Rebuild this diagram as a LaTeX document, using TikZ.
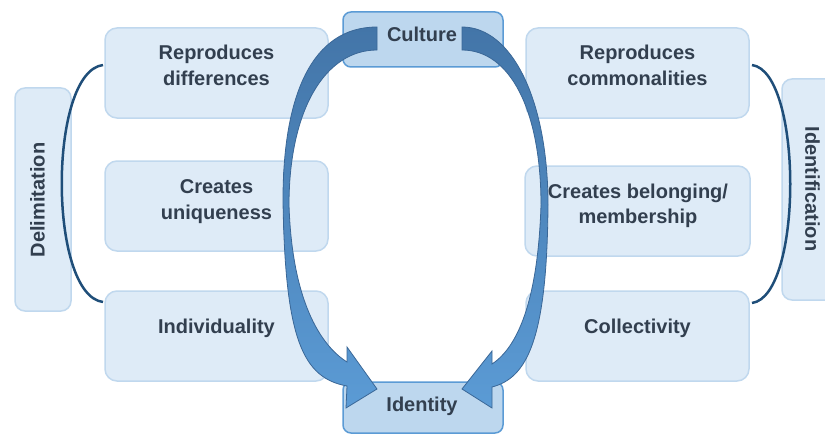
\documentclass[tikz,border=0pt]{standalone}
\usepackage{fontspec}
\setmainfont{Liberation Sans}
\definecolor{boxfill}{HTML}{DEEBF7}
\definecolor{boxline}{HTML}{C0D8EE}
\definecolor{keyfill}{HTML}{BDD7EE}
\definecolor{keyline}{HTML}{5B9BD5}
\definecolor{ink}{HTML}{323F4F}
\definecolor{bracecol}{HTML}{1F4E79}
\definecolor{arrowtop}{HTML}{4375A8}
\definecolor{arrowbot}{HTML}{5B9BD5}
\definecolor{arrowline}{HTML}{3A6797}
\tikzset{
  panel/.style={draw=boxline, fill=boxfill, line width=1.5pt, rounded corners=12pt,
    minimum width=223pt, minimum height=90pt, inner sep=0pt},
  keybox/.style={draw=keyline, fill=keyfill, line width=1.5pt, rounded corners=8pt,
    minimum width=160pt, inner sep=0pt},
  sidebox/.style={draw=boxline, fill=boxfill, line width=1.5pt, rounded corners=10pt,
    minimum width=56pt, inner sep=0pt},
  lbl/.style={font=\bfseries\fontsize{20}{25.5}\selectfont, text=ink, align=center, inner sep=0pt},
  brace/.style={draw=bracecol, line width=2.5pt},
  swoop/.style={draw=arrowline, line width=0.8pt, top color=arrowtop, bottom color=arrowbot},
}
\begin{document}
\begin{tikzpicture}[x=1pt,y=-1pt]
  \useasboundingbox (0,0) rectangle (825,436);
  \clip (0,0) rectangle (825,436);
  \fill[white] (0,0) rectangle (825,436);

  \node[panel] (RD) at (216.5,73) {};
  \node[panel] (CU) at (216.5,206) {};
  \node[panel] (IN) at (216.5,336) {};
  \node[panel] (RC) at (637.5,73) {};
  \node[panel, minimum width=225pt] (CB) at (637.5,211) {};
  \node[panel] (CO) at (637.5,336) {};
  \node[lbl] (RDt) at (216.5,65.5) {Reproduces\\differences};
  \node[lbl] (CUt) at (216.5,201.5) {Creates\\uniqueness};
  \node[lbl] (INt) at (216.5,328) {Individuality};
  \node[lbl] (RCt) at (637.5,65.5) {Reproduces\\commonalities};
  \node[lbl] (CBt) at (638,206) {Creates belonging/\\membership};
  \node[lbl] (COt) at (637.5,328) {Collectivity};

  \node[sidebox, minimum height=223pt] (D) at (43,199.5) {};
  \node[sidebox, minimum height=221pt] (F) at (810,189.5) {};
  \node[lbl, rotate=90] (Dt) at (37.5,200) {Delimitation};
  \node[lbl, rotate=-90] (Ft) at (812.5,189) {Identification};

  \coordinate (LT) at (103,65); \coordinate (LB) at (103,302);
  \coordinate (RT) at (752,65); \coordinate (RB) at (752,303);
  \draw[brace] (LT) .. controls (48,72) and (48,295) .. (LB);
  \draw[brace] (RT) .. controls (803,72) and (803,296) .. (RB);

  \node[keybox, minimum height=55pt] (C) at (423,39.5) {};
  \node[keybox, minimum height=51pt] (I) at (423,407.5) {};
  \node[lbl] (Ct) at (422,34.5) {Culture};
  \node[lbl] (It) at (422,406.5) {Identity};

  \shadedraw[swoop] (377,27) .. controls (312,27) and (283,95) .. (283,200)
    .. controls (285,340) and (303,378) .. (347,386)
    -- (346,408) -- (377,389) -- (347,347) -- (347,362)
    .. controls (320,345) and (292,300) .. (289,205)
    .. controls (289,110) and (325,50) .. (377,50) -- cycle;
  \shadedraw[swoop] (462,27) .. controls (512,27) and (548,100) .. (548,205)
    .. controls (547,340) and (527,378) .. (492,387)
    -- (492,408) -- (462,389) -- (492,351) -- (492,364)
    .. controls (518,347) and (538,300) .. (541,205)
    .. controls (541,110) and (510,50) .. (462,50) -- cycle;
\end{tikzpicture}
\end{document}
